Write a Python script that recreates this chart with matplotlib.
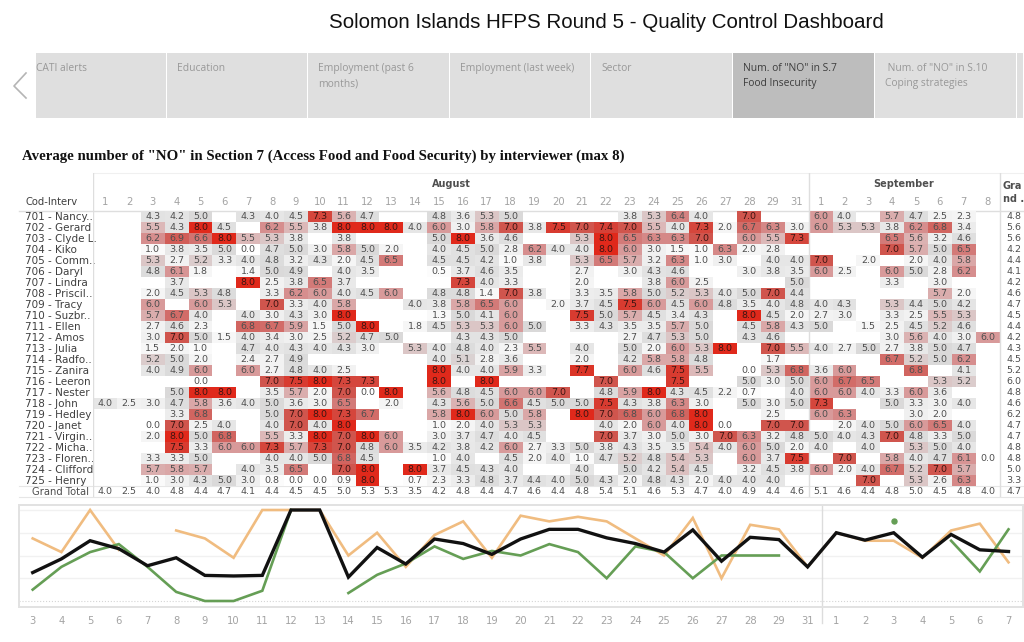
"""Solomon Islands HFPS Round 5 - Quality Control Dashboard (Food Insecurity tab)."""

from __future__ import annotations

import matplotlib

matplotlib.use("Agg")
import matplotlib.pyplot as plt
import numpy as np
from matplotlib.colors import LinearSegmentedColormap
from matplotlib.patches import Rectangle

W, H = 1024, 642
n = np.nan

TITLE = "Solomon Islands HFPS Round 5 - Quality Control Dashboard"
SUBTITLE = 'Average number of "NO" in Section 7 (Access Food and Food Security) by interviewer (max 8)'

tab_labels = [
    "CATI alerts",
    "Education",
    "Employment (past 6\nmonths)",
    "Employment (last week)",
    "Sector",
    'Num. of "NO" in S.7\nFood Insecurity',
    ' Num. of "NO" in S.10\nCoping strategies',
    "",
]

august_days = list(range(1, 30)) + [31]
september_days = list(range(1, 9))

interviewers = [
    "701 - Nancy..", "702 - Gerard", "703 - Clyde L.", "704 - Kiko", "705 - Comm..",
    "706 - Daryl", "707 - Lindra", "708 - Priscil..", "709 - Tracy", "710 - Suzbr..",
    "711 - Ellen", "712 - Amos", "713 - Julia", "714 - Radfo..", "715 - Zanira",
    "716 - Leeron", "717 - Nester", "718 - John", "719 - Hedley", "720 - Janet",
    "721 - Virgin..", "722 - Micha..", "723 - Floren..", "724 - Clifford", "725 - Henry",
]

# columns: Aug 1-29, Aug 31, Sep 1-8
v701 = [n, n, 4.3, 4.2, 5.0, n, 4.3, 4.0, 4.5, 7.3, 5.6, 4.7, n, n, 4.8, 3.6, 5.3, 5.0, n, n, n, n, 3.8, 5.3, 6.4, 4.0, n, 7.0, n, n, 6.0, 4.0, n, 5.7, 4.7, 2.5, 2.3, n]
v702 = [n, n, 5.5, 4.3, 8.0, 4.5, n, 6.2, 5.5, 3.8, 8.0, 8.0, 8.0, 4.0, 6.0, 3.0, 5.8, 7.0, 3.8, 7.5, 7.0, 7.4, 7.0, 5.5, 4.0, 7.3, 2.0, 6.7, 6.3, 3.0, 6.0, 5.3, 5.3, 3.8, 6.2, 6.8, 3.4, n]
v703 = [n, n, 6.2, 6.9, 6.6, 8.0, 5.5, 5.3, 3.8, n, 3.8, n, n, n, 5.0, 8.0, 3.6, 4.6, n, n, 5.3, 8.0, 6.5, 6.3, 6.3, 7.0, n, 6.0, 5.5, 7.3, n, n, n, 6.5, 5.6, 3.2, 4.6, n]
v704 = [n, n, 1.0, 3.8, 3.5, 5.0, 0.0, 4.7, 5.0, 3.0, 5.8, 5.0, 2.0, n, 4.0, 4.5, 5.0, 2.8, 6.2, 4.0, 4.0, 8.0, 6.0, 3.0, 1.5, 1.0, 6.3, 2.0, 2.8, n, n, n, n, 7.0, 5.7, 5.0, 6.5, n]
v705 = [n, n, 5.3, 2.7, 5.2, 3.3, 4.0, 4.8, 3.2, 4.3, 2.0, 4.5, 6.5, n, 4.5, 4.5, 4.2, 1.0, 3.8, n, 5.3, 6.5, 5.7, 3.2, 6.3, 1.0, 3.0, n, 4.0, 4.0, 7.0, n, 2.0, n, 2.0, 4.0, 5.8, n]
v706 = [n, n, 4.8, 6.1, 1.8, n, 1.4, 5.0, 4.9, n, 4.0, 3.5, n, n, 0.5, 3.7, 4.6, 3.5, n, n, 2.7, n, 3.0, 4.3, 4.6, n, n, 3.0, 3.8, 3.5, 6.0, 2.5, n, 6.0, 5.0, 2.8, 6.2, n]
v707 = [n, n, n, 3.7, n, n, 8.0, 2.5, 3.8, 6.5, 3.7, n, n, n, n, 7.3, 4.0, 3.3, n, n, 2.0, n, n, 3.8, 6.0, 2.5, n, n, n, 5.0, n, n, n, 3.3, n, 3.0, n, n]
v708 = [n, n, 2.0, 4.5, 5.3, 4.8, n, 3.3, 6.2, 6.0, 4.0, 4.5, 6.0, n, 4.8, 4.8, 1.4, 7.0, 3.8, n, 3.3, 3.5, 5.8, 5.0, 5.2, 5.3, 4.0, 5.0, 7.0, 4.4, n, n, n, n, n, 5.7, 2.0, n]
v709 = [n, n, 6.0, n, 6.0, 5.3, n, 7.0, 3.3, 4.0, 5.8, n, n, 4.0, 3.8, 5.8, 6.5, 6.0, n, 2.0, 3.7, 4.5, 7.5, 6.0, 4.5, 6.0, 4.8, 3.5, 4.0, 4.8, 4.0, 4.3, n, 5.3, 4.4, 5.0, 4.2, n]
v710 = [n, n, 5.7, 6.7, 4.0, n, 4.0, 3.0, 4.3, 3.0, 8.0, n, n, n, 1.3, 5.0, 4.1, 6.0, n, n, 7.5, 5.0, 5.7, 4.5, 3.4, 4.3, n, 8.0, 4.5, 2.0, 2.7, 3.0, n, 3.3, 2.5, 5.5, 5.3, n]
v711 = [n, n, 2.7, 4.6, 2.3, n, 6.8, 6.7, 5.9, 1.5, 5.0, 8.0, n, 1.8, 4.5, 5.3, 5.3, 6.0, 5.0, n, 3.3, 4.3, 3.5, 3.5, 5.7, 5.0, n, 4.5, 5.8, 4.3, 5.0, n, 1.5, 2.5, 4.5, 5.2, 4.6, n]
v712 = [n, n, 3.0, 7.0, 5.0, 1.5, 4.0, 3.4, 3.0, 2.5, 5.2, 4.7, 5.0, n, n, 4.3, 4.3, 5.0, n, n, n, n, 2.7, 4.7, 5.3, 5.0, n, 4.3, 4.6, n, n, n, n, 3.0, 5.6, 4.0, 3.0, 6.0]
v713 = [n, n, 1.5, 2.0, 1.0, n, 4.7, 4.0, 4.3, 4.0, 4.3, 3.0, n, 5.3, 4.0, 4.8, 4.0, 2.3, 5.5, n, 4.0, n, 5.0, 2.0, 6.0, 5.3, 8.0, n, 7.0, 5.5, 4.0, 2.7, 5.0, 2.7, 3.8, 5.0, 4.7, n]
v714 = [n, n, 5.2, 5.0, 2.0, n, 2.4, 2.7, 4.9, n, n, n, n, n, 4.0, 5.1, 2.8, 3.6, n, n, 2.0, n, 4.2, 5.8, 5.8, 4.8, n, n, 1.7, n, n, n, n, 6.7, 5.2, 5.0, 6.2, n]
v715 = [n, n, 4.0, 4.9, 6.0, n, 6.0, 2.7, 4.8, 4.0, 2.5, n, n, n, 8.0, 4.0, 4.0, 5.9, 3.3, n, 7.7, n, 6.0, 4.6, 7.5, 5.5, n, 0.0, 5.3, 6.8, 3.6, 6.0, n, n, 6.8, n, 4.1, n]
v716 = [n, n, n, n, 0.0, n, n, 7.0, 7.5, 8.0, 7.3, 7.3, n, n, 8.0, n, 8.0, n, n, n, n, 7.0, n, n, 7.5, n, n, 5.0, 3.0, 5.0, 6.0, 6.7, 6.5, n, n, 5.3, 5.2, n]
v717 = [n, n, n, 5.0, 8.0, 8.0, n, 3.5, 5.7, 2.0, 7.0, 0.0, 8.0, n, 5.6, 4.8, 4.5, 6.0, 6.0, 7.0, n, 4.8, 5.9, 8.0, 4.3, 4.5, 2.2, 0.7, n, 4.0, 6.0, 6.0, 4.0, 3.3, 6.0, 3.6, n, n]
v718 = [4.0, 2.5, 3.0, 4.7, 5.8, 3.6, 4.0, 5.0, 3.6, 3.0, 6.5, n, 2.0, n, 4.3, 5.6, 5.0, 6.6, 4.5, 5.0, 5.0, 7.5, 4.3, 3.8, 6.3, 3.0, n, 5.0, 3.0, 5.0, 7.3, n, n, 5.0, 3.3, 3.0, 4.0, n]
v719 = [n, n, n, 3.3, 6.8, n, n, 5.0, 7.0, 8.0, 7.3, 6.7, n, n, 5.8, 8.0, 6.0, 5.0, 5.8, n, 8.0, 7.0, 6.8, 6.0, 6.8, 8.0, n, n, 2.5, n, 6.0, 6.3, n, n, 3.0, 2.0, n, n]
v720 = [n, n, 0.0, 7.0, 2.5, 4.0, n, 4.0, 7.0, 4.0, 8.0, n, n, n, 1.0, 2.0, 4.0, 5.3, 5.3, n, n, 4.0, 2.0, 6.0, 4.0, 8.0, 0.0, n, 7.0, 7.0, n, 2.0, 4.0, 5.0, 6.0, 6.5, 4.0, n]
v721 = [n, n, 2.0, 8.0, 5.0, 6.8, n, 5.5, 3.3, 8.0, 7.0, 8.0, 6.0, n, 3.0, 3.7, 4.7, 4.0, 4.5, n, n, 7.0, 3.7, 3.0, 5.0, 3.0, 7.0, 6.3, 3.2, 4.8, 5.0, 4.0, 4.3, 7.0, 4.8, 3.3, 5.0, n]
v722 = [n, n, n, 7.5, 3.3, 6.0, 6.0, 7.3, 5.7, 7.3, 7.0, 4.8, 6.0, 3.5, 4.2, 3.8, 4.2, 6.0, 2.7, 3.3, 5.0, 3.8, 4.3, 3.5, 3.5, 5.4, 4.0, 6.0, 5.0, 2.0, 4.0, n, 4.0, n, 5.3, 5.0, 4.0, n]
v723 = [n, n, 3.3, 3.3, 5.0, n, n, 4.0, 4.0, 5.0, 6.8, 4.5, n, n, 1.0, 4.0, n, 4.5, 2.0, 4.0, 1.0, 4.7, 5.2, 4.8, 5.4, 5.3, n, 6.0, 3.7, 7.5, n, 7.0, n, 5.8, 4.0, 4.7, 6.1, 0.0]
v724 = [n, n, 5.7, 5.8, 5.7, n, 4.0, 3.5, 6.5, n, 7.0, 8.0, n, 8.0, 3.7, 4.5, 4.3, 4.0, n, n, 4.0, n, 5.0, 4.2, 5.4, 4.5, n, 3.2, 4.5, 3.8, 6.0, 2.0, 4.0, 6.7, 5.2, 7.0, 5.7, n]
v725 = [n, n, 1.0, 3.0, 4.3, 5.0, 3.0, 0.8, 0.0, 0.0, 0.9, 8.0, n, 0.7, 2.3, 3.3, 4.8, 3.7, 4.4, 4.0, 5.0, 4.3, 2.0, 4.8, 4.3, 2.0, 4.0, 4.0, 4.0, n, n, n, 7.0, n, 5.3, 2.6, 6.3, n]

grand_total_row = [4.0, 2.5, 4.0, 4.8, 4.4, 4.7, 4.1, 4.4, 4.5, 4.5, 5.0, 5.3, 5.3, 3.5, 4.2, 4.8, 4.4, 4.7, 4.6, 4.4, 4.8, 5.4, 5.1, 4.6, 5.3, 4.7, 4.0, 4.9, 4.4, 4.6, 5.1, 4.6, 4.4, 4.8, 5.0, 4.5, 4.8, 4.0]
grand_total_col = [4.8, 5.6, 5.6, 4.2, 4.4, 4.1, 4.2, 4.6, 4.7, 4.5, 4.4, 4.2, 4.3, 4.5, 5.2, 6.0, 4.8, 4.6, 6.2, 4.7, 4.7, 4.8, 4.8, 5.0, 3.3]
grand_total_all = 4.7

# strip below the table: Aug 3-29, Aug 31, Sep 1-7
strip_labels = list(range(3, 30)) + [31] + list(range(1, 8))
strip_black = [2.5, 3.7, 5.3, 4.6, 3.1, 3.8, 2.25, 2.2, 2.25, 8.0, 8.0, 2.1, 4.7, 3.25, 5.45, 5.05, 4.1, 5.45, 6.3, 6.3, 5.55, 5.05, 4.3, 6.25, 3.5, 5.6, 5.4, 3.0, 6.0, 5.35, 6.0, 3.85, 5.85, 4.5, 4.35]

heat_stops = [0, 1, 3, 4, 5, 5.5, 6, 6.5, 7, 7.5, 8]
heat_colors = ["#ffffff", "#fafafa", "#f0f0f0", "#e6e6e6", "#dadada", "#dcb9b9", "#d89c9c",
               "#d37c7a", "#d0564f", "#d83c31", "#e0291b"]

TEXT = "#4f4f4f"
LABEL = "#3f3f3f"
TICK = "#a3a3a3"
RULE = "#dedede"


def px_axes(fig, left, top, right, bottom, **kwargs):
    return fig.add_axes(
        [left / W, 1 - bottom / H, (right - left) / W, (bottom - top) / H], **kwargs
    )


def draw_chrome(ax):
    ax.set_xlim(0, W)
    ax.set_ylim(H, 0)
    ax.axis("off")

    ax.text(329, 22, TITLE, ha="left", va="center", fontsize=14.8, color="#111111",
            family="Liberation Sans")
    ax.text(22, 156, SUBTITLE, ha="left", va="center", fontsize=10.7, color="#111111",
            family="Liberation Serif", weight="bold")

    ax.plot([26, 14, 26], [73, 86, 98], color="#b5b5b5", lw=1.2)

    edges = [36, 167, 308, 450, 591, 733, 875, 1017, 1024]
    for i, label in enumerate(tab_labels):
        selected = i == 5
        left, right = edges[i], edges[i + 1] - 1.5
        ax.add_patch(Rectangle((left, 53), right - left, 65, lw=0,
                               color="#bdbdbd" if selected else "#dfdfdf"))
        if label:
            ax.text(left + 10 if i else left, 63, label, ha="left", va="top", fontsize=7.4,
                    color="#3c3c3c" if selected else "#989898", family="Open Sans",
                    linespacing=1.55)


def draw_table(ax):
    left, cell_w, cell_h = 93.2, 23.85, 11.0
    values = np.array([
        v701, v702, v703, v704, v705, v706, v707, v708, v709, v710, v711, v712, v713,
        v714, v715, v716, v717, v718, v719, v720, v721, v722, v723, v724, v725,
    ])
    n_rows, n_cols = values.shape

    cmap = LinearSegmentedColormap.from_list(
        "heat", [(s / 8, c) for s, c in zip(heat_stops, heat_colors)]
    )
    ax.set_xlim(0, (W - left) / cell_w)
    ax.set_ylim((497 - 211.2) / cell_h, (173 - 211.2) / cell_h)
    ax.axis("off")
    ax.patch.set_alpha(0)

    ax.pcolormesh(np.arange(n_cols + 1), np.arange(n_rows + 1), values, cmap=cmap,
                  vmin=0, vmax=8, edgecolors="none", zorder=1)

    for r in range(n_rows):
        for c in range(n_cols):
            v = values[r, c]
            if not np.isnan(v):
                color = "#3d1512" if v >= 7 else TEXT
                ax.text(c + 0.5, r + 0.52, f"{v:.1f}", ha="center", va="center",
                        fontsize=6.8, color=color, zorder=3)
        ax.text(n_cols + 0.62, r + 0.52, f"{grand_total_col[r]:.1f}", ha="center", va="center",
                fontsize=6.8, color=TEXT, zorder=3)
    for c, v in enumerate(grand_total_row):
        ax.text(c + 0.5, n_rows + 0.52, f"{v:.1f}", ha="center", va="center",
                fontsize=6.8, color=TEXT, zorder=3)
    ax.text(n_cols + 0.62, n_rows + 0.52, f"{grand_total_all:.1f}", ha="center", va="center",
            fontsize=6.8, color=TEXT, zorder=3)

    day_labels = august_days + september_days
    header_y = (202 - 211.2) / cell_h
    for c, day in enumerate(day_labels):
        ax.text(c + 0.5, header_y, str(day), ha="center", va="center", fontsize=7.2, color=TICK)
    month_y = (184 - 211.2) / cell_h
    ax.text(15, month_y, "August", ha="center", va="center", fontsize=7.0, color=TEXT, weight="bold")
    ax.text(34, month_y, "September", ha="center", va="center", fontsize=7.0, color=TEXT, weight="bold")
    ax.text(n_cols + 0.13, (192.5 - 211.2) / cell_h, "Gra\nnd ..", ha="left", va="center",
            fontsize=7.0, color=TEXT, weight="bold", linespacing=1.45)

    for c in (0, len(august_days), n_cols):
        ax.axvline(c, color=RULE, lw=1.0, zorder=2)


def draw_chrome_rules(ax):
    ax.plot([19, W], [210.7, 210.7], color=RULE, lw=1.0)
    ax.plot([93, W], [173, 173], color="#f0f0f0", lw=0.8)
    ax.plot([19, W], [485.7, 485.7], color="#e6e6e6", lw=0.8)
    ax.plot([19, W], [496.5, 496.5], color="#e6e6e6", lw=0.8)

    row_y = 216.7
    for i, name in enumerate(interviewers):
        ax.text(25, row_y + i * 11.0, name, ha="left", va="center", fontsize=7.5, color=LABEL)
    ax.text(89.5, 491.7, "Grand Total", ha="right", va="center", fontsize=7.2, color=TEXT)
    ax.text(25, 202, "Cod-Interv", ha="left", va="center", fontsize=7.2, color=LABEL)


def draw_strip(ax):
    positions = np.arange(len(strip_labels))
    gerard = np.array(v702[2:37])
    henry = np.array(v725[2:37])

    ax.set_xlim((19 - 32.7) / 28.7, (1023 - 32.7) / 28.7)
    ax.set_ylim((601 - 606.7) / 11.375, (601 - 505) / 11.375)
    ax.patch.set_alpha(0)
    for spine in ax.spines.values():
        spine.set_color("#e2e2e2")
        spine.set_linewidth(1.4)

    for v in (2, 4, 6, 8):
        ax.axhline(v, color="#f1f1f1", lw=1.0, zorder=1)
    ax.axhline(0, color="#d5d5d5", lw=0.8, ls=":", zorder=1)

    ax.plot(positions, gerard, color="#f0bc80", lw=1.9, zorder=3, solid_joinstyle="miter")
    ax.plot(positions, henry, color="#659e55", lw=1.9, zorder=4, solid_joinstyle="miter")
    ax.plot(positions[30], henry[30], "o", color="#659e55", ms=3.6, zorder=4)
    ax.plot(positions, strip_black, color="#111111", lw=2.4, zorder=5, solid_joinstyle="miter")

    ax.set_xticks(positions, [str(v) for v in strip_labels])
    ax.tick_params(axis="x", length=0, labelsize=7.2, labelcolor=TICK, pad=7)
    ax.set_yticks([])
    ax.axvline(27.5, color="#dcdcdc", lw=1.0, zorder=2)
    ax.plot([27.5, 27.5], [0, -0.16], color="#dcdcdc", lw=1.0, transform=ax.get_xaxis_transform(),
            clip_on=False)


def main() -> None:
    fig = plt.figure(figsize=(W / 100, H / 100), dpi=100, facecolor="white")

    chrome = px_axes(fig, 0, 0, W, H)
    draw_chrome(chrome)
    draw_chrome_rules(chrome)

    draw_table(px_axes(fig, 93.2, 173, W, 497))
    draw_strip(px_axes(fig, 19, 505, 1023, 606.7))

    fig.savefig("out.png", dpi=100, facecolor="white")
    plt.close(fig)


if __name__ == "__main__":
    main()
